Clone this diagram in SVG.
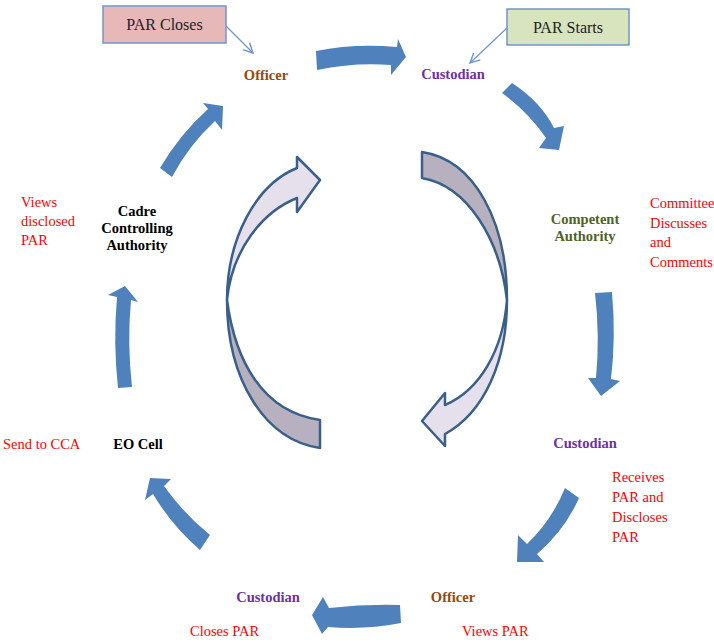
<svg xmlns="http://www.w3.org/2000/svg" width="714" height="642" viewBox="0 0 714 642">
<defs>
<style>
.bl{fill:#4F81BD;stroke:none}
.front{fill:#E5E0EC;stroke:#3A5F8B;stroke-width:2.5;stroke-linejoin:round}
.back{fill:#B7B0BE;stroke:#3A5F8B;stroke-width:2.5;stroke-linejoin:round}
.t{font-family:"Liberation Serif","Times New Roman",serif;font-weight:bold;font-size:14.5px;text-anchor:middle}
.r{font-family:"Liberation Serif","Times New Roman",serif;font-size:14.5px;fill:#FF0000}
.off{fill:#984807}
.cus{fill:#7030A0}
.comp{fill:#4F6228}
.blk{fill:#000}
.box{stroke:#7096C8;stroke-width:1.5}
.bt{font-family:"Liberation Serif","Times New Roman",serif;font-size:16px;text-anchor:middle;fill:#222}
.call{fill:none;stroke:#6F95CC;stroke-width:1.2}
</style>
<marker id="oa" viewBox="0 0 10 10" refX="9" refY="5" markerWidth="12" markerHeight="12" markerUnits="userSpaceOnUse" orient="auto">
<path d="M1,1 L9,5 L1,9" fill="none" stroke="#6F95CC" stroke-width="1.2"/>
</marker>
</defs>
<rect width="714" height="642" fill="#fff"/>

<g id="connectors">
<path class="bl" d="M316,51 Q355,43 397,47 L398,39 L406,57 L391,75 L391,65 Q355,62 317,70 Z"/>
<path class="bl" d="M502,93 L512,83 Q541,102 554,128 L564,126 L559,150 L539,148 L546,138 Q528,112 502,93 Z"/>
<path class="bl" d="M595,293 L612,292 Q616,338 611,379 L620,381 L601,396 L588,378 L596,378 Q600,336 595,293 Z"/>
<path class="bl" d="M565,488 L579,498 Q565,530 537,554 L544,562 L517,562 L518,535 L527,544 Q552,520 565,488 Z"/>
<path class="bl" d="M400,605 L401,623 Q365,630 328,627 L322,634 L312,615 L323,597 L329,608 Q365,604 400,605 Z"/>
<path class="bl" d="M210,535 L200,550 Q172,526 153,494 L145,500 L150,478 L171,479 L164,486 Q184,514 210,535 Z"/>
<path class="bl" d="M118,388 Q113,343 117,297 L108,295 L125,286 L138,302 L131,300 Q127,343 132,387 Z"/>
<path class="bl" d="M160,168 Q180,134 208,109 L203,103 L223,106 L222,130 L215,121 Q189,145 172,177 Z"/>
<line class="call" x1="225" y1="25" x2="253" y2="53" marker-end="url(#oa)"/>
<line class="call" x1="507" y1="28" x2="470" y2="63" marker-end="url(#oa)"/>
</g>

<g id="inner-left">
<path class="back" d="M227,300 C227,380 265,440 320,448 L320,420 C262,412 235,360 227,300 Z"/>
<path class="front" d="M227,300 C227,240 255,185 297,168 L297,157 L320,180 L297,212 L297,198 C262,212 232,250 227,300 Z"/>
</g>
<g id="inner-right">
<path class="back" d="M507,300 C507,222 475,160 422,152 L422,178 C468,186 500,240 507,300 Z"/>
<path class="front" d="M507,300 C507,360 485,412 445,434 L445,446 L422,421 L445,393 L445,405 C480,390 503,350 507,300 Z"/>
</g>

<g id="par-closes">
<rect class="box" x="103" y="6" width="123" height="37" fill="#E6B9B8"/>
<text class="bt" x="164.5" y="30">PAR Closes</text>
</g>
<g id="par-starts">
<rect class="box" x="507" y="9" width="122" height="36" fill="#D7E4BD"/>
<text class="bt" x="568" y="33">PAR Starts</text>
</g>

<g id="officer-top"><text class="t off" x="266" y="80">Officer</text></g>
<g id="custodian-top"><text class="t cus" x="453" y="79">Custodian</text></g>
<g id="competent-authority">
<text class="t comp" x="585" y="224">Competent</text>
<text class="t comp" x="585" y="241">Authority</text>
<text class="r" x="650" y="208">Committee</text>
<text class="r" x="650" y="228">Discusses</text>
<text class="r" x="650" y="247">and</text>
<text class="r" x="650" y="267">Comments</text>
</g>
<g id="custodian-right">
<text class="t cus" x="585" y="448">Custodian</text>
<text class="r" x="612" y="482">Receives</text>
<text class="r" x="612" y="502">PAR and</text>
<text class="r" x="612" y="522">Discloses</text>
<text class="r" x="612" y="542">PAR</text>
</g>
<g id="officer-bottom">
<text class="t off" x="453" y="602">Officer</text>
<text class="r" x="462" y="636">Views PAR</text>
</g>
<g id="custodian-bottom">
<text class="t cus" x="268" y="602">Custodian</text>
<text class="r" x="190" y="636">Closes PAR</text>
</g>
<g id="eo-cell">
<text class="t blk" x="138" y="449">EO Cell</text>
<text class="r" x="3" y="449">Send to CCA</text>
</g>
<g id="cca">
<text class="t blk" x="137" y="216">Cadre</text>
<text class="t blk" x="137" y="233">Controlling</text>
<text class="t blk" x="137" y="250">Authority</text>
<text class="r" x="21" y="207">Views</text>
<text class="r" x="21" y="226">disclosed</text>
<text class="r" x="21" y="245">PAR</text>
</g>
</svg>
